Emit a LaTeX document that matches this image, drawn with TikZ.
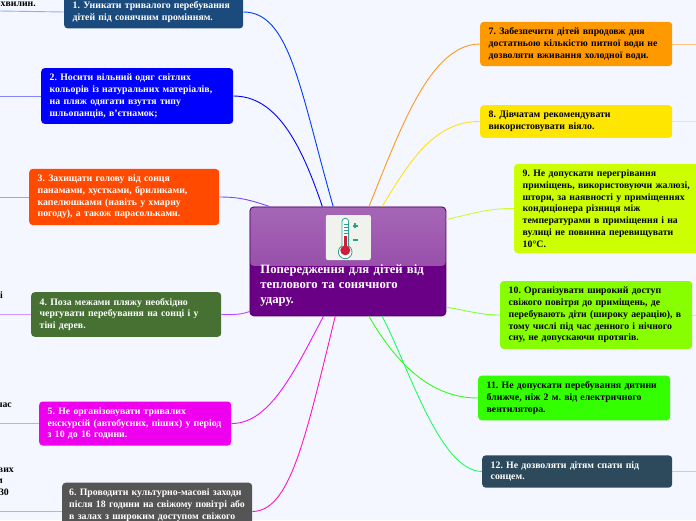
\documentclass[tikz,border=0pt]{standalone}
\usepackage{fontspec}
\setmainfont{Liberation Serif}
\usetikzlibrary{arrows,arrows.meta}

\definecolor{pagebg}{HTML}{F4F7FF}
\definecolor{rootfill}{HTML}{6A0085}
\definecolor{tealicon}{HTML}{2E9E8E}
\definecolor{redicon}{HTML}{CC1F3C}

\begin{document}
\begin{tikzpicture}[
x=1pt,y=-1pt,
topic/.style={rounded corners=3.5pt,anchor=west,inner xsep=8.5pt,inner ysep=6pt,align=left,execute at begin node=\frenchspacing,font=\bfseries\fontsize{9.8}{11.75}\selectfont},
light/.style={topic,text=white},
dark/.style={topic,text=black},
cut/.style={anchor=east,inner sep=0pt,text=black,font=\bfseries\fontsize{9.8}{11.75}\selectfont},
link/.style={line width=0.9pt},
stub/.style={line width=0.9pt,opacity=0.55} ]

\useasboundingbox (0,0) rectangle (696,520);
\clip (0,0) rectangle (696,520);
\fill[pagebg] (0,0) rectangle (696,520);

\node[draw=rootfill!70!black,line width=0.8pt,fill=rootfill,rounded corners=4pt,anchor=north west,text width=175pt,minimum height=109pt,inner xsep=10.5pt,inner ysep=0pt,align=left,text=white,
font=\bfseries\fontsize{12.7}{15}\selectfont,
path picture={\shade[top color=rootfill!60!white,bottom color=rootfill!76!white] (path picture bounding box.north west) rectangle ([yshift=-59pt]path picture bounding box.north east);}]
(root) at (249.5,206.5) {\rule{0pt}{57pt}Попередження для дітей від\\теплового та сонячного\\удару.};

\node[light,fill={rgb,255:red,27;green,75;blue,125},text width=162pt] (n1) at (64,12) {1. Уникати тривалого перебування\\дітей під сонячним промінням.};
\node[light,fill={rgb,255:red,0;green,0;blue,255},text width=175pt] (n2) at (41,96) {2. Носити вільний одяг світлих\\кольорів із натуральних матеріалів,\\на пляж одягати взуття типу\\шльопанців, в'єтнамок;};
\node[light,fill={rgb,255:red,255;green,74;blue,0},text width=173pt] (n3) at (29,197) {3. Захищати голову від сонця\\панамами, хустками, бриликами,\\капелюшками (навіть у хмарну\\погоду), а також парасольками.};
\node[light,fill={rgb,255:red,71;green,112;blue,51},text width=173pt] (n4) at (31,314.5) {4. Поза межами пляжу необхідно\\чергувати перебування на сонці і у\\тіні дерев.};
\node[light,fill={rgb,255:red,238;green,0;blue,238},text width=175pt] (n5) at (39,423.5) {5. Не організовувати тривалих\\екскурсій (автобусних, піших) у період\\з 10 до 16 години.};
\node[light,fill={rgb,255:red,85;green,85;blue,85},text width=176pt,inner xsep=7pt] (n6) at (62,511.5) {6. Проводити культурно-масові заходи\\після 18 години на свіжому повітрі або\\в залах з широким доступом свіжого\\\strut};

\node[dark,fill={rgb,255:red,255;green,153;blue,0},text width=175pt] (n7) at (480,44) {7. Забезпечити дітей впродовж дня\\достатньою кількістю питної води не\\дозволяти вживання холодної води.};
\node[dark,fill={rgb,255:red,255;green,230;blue,0},text width=175pt] (n8) at (480,121.5) {8. Дівчатам рекомендувати\\використовувати віяло.};
\node[dark,fill={rgb,255:red,204;green,255;blue,0},text width=175pt] (n9) at (514,208.5) {9. Не допускати перегрівання\\приміщень, використовуючи жалюзі,\\штори, за наявності у приміщеннях\\кондиціонера різниця між\\температурами в приміщення і на\\вулиці не повинна перевищувати\\10°С.};
\node[dark,fill={rgb,255:red,136;green,255;blue,0},text width=175pt] (n10) at (500,315) {10. Організувати широкий доступ\\свіжого повітря до приміщень, де\\перебувають діти (широку аерацію), в\\тому числі під час денного і нічного\\сну, не допускаючи протягів.};
\node[dark,fill={rgb,255:red,51;green,255;blue,0},text width=175pt] (n11) at (478,398) {11. Не допускати перебування дитини\\ближче, ніж 2 м. від електричного\\вентилятора.};
\node[light,fill={rgb,255:red,45;green,74;blue,92},text width=173pt] (n12) at (482,471.5) {12. Не дозволяти дітям спати під\\сонцем.};

% cut off texts at the left edge
\node[cut] (c1) at (36,3) {5 хвилин.};
\node[cut] (c4) at (3,295) {і};
\node[cut] (c5) at (12,405) {час};
\node[cut] (c6a) at (14,470) {вих};
\node[cut] (c6b) at (3,481) {м};
\node[cut] (c6c) at (9,492.5) {30};

% free ends of the stubs
\coordinate (e1) at (0,11);
\coordinate (e2) at (0,96);
\coordinate (e3) at (0,197);
\coordinate (e4) at (0,314.5);
\coordinate (e5) at (0,423.5);
\coordinate (e6) at (0,511.5);
\coordinate (e7) at (696,44);
\coordinate (e8) at (696,121.5);
\coordinate (e10) at (696,315);
\coordinate (e12) at (696,471.5);

\draw[link,color={rgb,255:red,0;green,60;blue,255}] (root.105) .. controls (300,90) and (290,12) .. (n1.east);
\draw[link,color={rgb,255:red,0;green,0;blue,255}] (root.115) .. controls (300,140) and (275,96) .. (n2.east);
\draw[link,color={rgb,255:red,120;green,70;blue,255}] (root.145) .. controls (250,200) and (240,197) .. (n3.east);
\draw[link,color={rgb,255:red,185;green,70;blue,255}] (root.207) .. controls (243,314) and (235,315) .. (n4.east);
\draw[link,color={rgb,255:red,245;green,20;blue,240}] (root.246) .. controls (295,370) and (270,424) .. (n5.east);
\draw[link,color={rgb,255:red,255;green,20;blue,190}] (root.257) .. controls (305,440) and (290,511) .. (n6.east);
\draw[link,color={rgb,255:red,255;green,153;blue,30}] (root.69) .. controls (400,130) and (430,44) .. (n7.west);
\draw[link,color={rgb,255:red,255;green,225;blue,20}] (root.58) .. controls (410,160) and (435,121) .. (n8.west);
\draw[link,color={rgb,255:red,204;green,255;blue,50}] (root.23) .. controls (470,214) and (490,208) .. (n9.west);
\draw[link,color={rgb,255:red,136;green,255;blue,50}] (root.-25) .. controls (465,310) and (480,315) .. (n10.west);
\draw[link,color={rgb,255:red,50;green,255;blue,20}] (root.291) .. controls (400,370) and (435,398) .. (n11.west);
\draw[link,color={rgb,255:red,30;green,255;blue,90}] (root.302) .. controls (410,370) and (440,471) .. (n12.west);

\draw[stub,color={rgb,255:red,60;green,110;blue,255}] (n1.west) -- (e1);
\draw[stub,color={rgb,255:red,40;green,40;blue,255}] (n2.west) -- (e2);
\draw[stub,color={rgb,255:red,120;green,70;blue,255}] (n3.west) -- (e3);
\draw[stub,color={rgb,255:red,185;green,70;blue,255}] (n4.west) -- (e4);
\draw[stub,color={rgb,255:red,245;green,60;blue,240}] (n5.west) -- (e5);
\draw[stub,color={rgb,255:red,255;green,60;blue,190}] (n6.west) -- (e6);
\draw[stub,color={rgb,255:red,255;green,153;blue,30}] (n7.east) -- (e7);
\draw[stub,color={rgb,255:red,255;green,225;blue,20}] (n8.east) -- (e8);
\draw[stub,color={rgb,255:red,136;green,255;blue,50}] (n10.east) -- (e10);
\draw[stub,color={rgb,255:red,30;green,255;blue,90}] (n12.east) -- (e12);

% thermometer icon
\node[fill={rgb,255:red,240;green,242;blue,238},rounded corners=2pt,minimum size=45pt,inner sep=0pt] (icon) at (348.3,237.5) {};
\draw[tealicon,fill=white,line width=0.8pt] (342,246) -- (342,221.5) arc[start angle=180,end angle=0,radius=3.3pt] -- (348.6,246) arc[start angle=60,end angle=-240,radius=6.8pt] -- cycle;
\fill[redicon] (343.8,236) rectangle (346.8,248);
\fill[redicon] (345.3,250.3) circle[radius=5pt];
\foreach \ya in {224,227,230,233}
  \draw[tealicon,line width=0.5pt] (344,\ya) -- (348,\ya);
\draw[tealicon,line width=2pt] (352.7,225.7) -- (358,225.7);
\draw[tealicon,line width=2pt] (355.3,223) -- (355.3,228.4);
\draw[tealicon,line width=2pt] (352.7,240) -- (358,240);
\end{tikzpicture}
\end{document}
